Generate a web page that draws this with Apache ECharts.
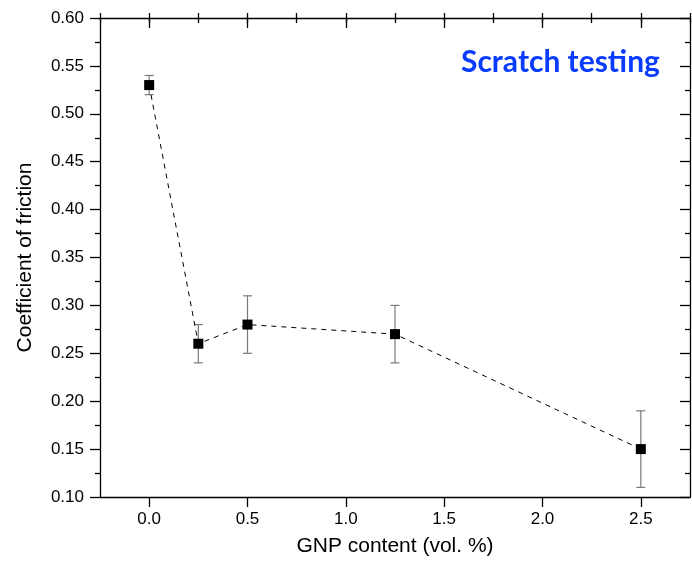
<!DOCTYPE html>
<html>
<head>
<meta charset="utf-8">
<script src="https://cdn.jsdelivr.net/npm/echarts@6/dist/echarts.min.js"></script>
<style>
  html, body { margin: 0; padding: 0; background: #fff; }
  #chart { width: 692px; height: 571px; }
</style>
</head>
<body>
<div id="chart"></div>
<script>
// GNP content (vol. %) and coefficient of friction
const gnpContent = [0, 0.25, 0.5, 1.25, 2.5]
const friction = [0.53, 0.26, 0.28, 0.27, 0.15]
const errLow = [0.52, 0.24, 0.25, 0.24, 0.11]
const errHigh = [0.54, 0.28, 0.31, 0.30, 0.19]
const xMajorTicks = [0, 0.5, 1.0, 1.5, 2.0, 2.5]

const chart = echarts.init(document.getElementById('chart'))

const font = 'Liberation Sans, Arial, sans-serif'
const tickLine = { color: '#000', width: 1.3 }

const xBase = {
  type: 'value',
  min: -0.25,
  max: 2.75,
  interval: 0.25,
  axisLine: { show: true, onZero: false, lineStyle: { color: '#000', width: 1.3 } },
  splitLine: { show: false }
}

const yBase = {
  type: 'value',
  min: 0.10,
  max: 0.60,
  interval: 0.05,
  axisLine: { show: true, onZero: false, lineStyle: { color: '#000', width: 1.3 } },
  splitLine: { show: false },
  minorTick: { show: true, splitNumber: 2, length: 5, lineStyle: tickLine }
}

const option = {
  animation: false,
  title: {
    text: 'Scratch testing',
    left: 456,
    top: 42,
    textStyle: { color: '#0a3cff', fontSize: 30, fontWeight: 'bold', fontFamily: 'Lato, Open Sans, sans-serif' }
  },
  grid: { left: 100, right: 2, top: 18, bottom: 74 },
  xAxis: [
    {
      ...xBase,
      name: 'GNP content (vol. %)',
      nameLocation: 'middle',
      nameGap: 39,
      nameTextStyle: { fontSize: 21, color: '#000', fontFamily: font },
      axisTick: { show: true, length: 10, lineStyle: tickLine, customValues: xMajorTicks },
      axisLabel: {
        fontSize: 17, color: '#000', fontFamily: font, margin: 14,
        customValues: xMajorTicks,
        formatter: v => v.toFixed(1)
      }
    },
    {
      ...xBase,
      axisLine: { show: false, onZero: false },
      axisTick: { show: true, length: 5, lineStyle: tickLine },
      axisLabel: { show: false }
    },
    {
      ...xBase,
      position: 'top',
      axisTick: { show: true, inside: true, length: 10, lineStyle: tickLine, customValues: xMajorTicks },
      axisLabel: { show: false }
    },
    {
      ...xBase,
      position: 'top',
      axisLine: { show: false, onZero: false },
      axisTick: { show: true, inside: true, length: 5, lineStyle: tickLine },
      axisLabel: { show: false }
    }
  ],
  yAxis: [
    {
      ...yBase,
      name: 'Coefficient of friction',
      nameLocation: 'middle',
      nameGap: 64,
      nameTextStyle: { fontSize: 21, color: '#000', fontFamily: font },
      axisTick: { show: true, length: 10, lineStyle: tickLine },
      axisLabel: { fontSize: 17, color: '#000', fontFamily: font, margin: 16, formatter: v => v.toFixed(2) }
    },
    {
      ...yBase,
      position: 'right',
      axisTick: { show: true, inside: true, length: 10, lineStyle: tickLine },
      minorTick: { show: true, splitNumber: 2, length: 5, lineStyle: tickLine },
      axisLabel: { show: false }
    }
  ],
  series: [
    {
      type: 'custom',
      xAxisIndex: 0,
      yAxisIndex: 0,
      data: gnpContent.map((x, i) => [x, errLow[i], errHigh[i]]),
      renderItem: (params, api) => {
        const lo = api.coord([api.value(0), api.value(1)])
        const hi = api.coord([api.value(0), api.value(2)])
        const half = 4.5
        const style = { stroke: '#7a7a7a', lineWidth: 1.2 }
        return {
          type: 'group',
          children: [
            { type: 'line', shape: { x1: lo[0], y1: lo[1], x2: hi[0], y2: hi[1] }, style },
            { type: 'line', shape: { x1: lo[0] - half, y1: lo[1], x2: lo[0] + half, y2: lo[1] }, style },
            { type: 'line', shape: { x1: hi[0] - half, y1: hi[1], x2: hi[0] + half, y2: hi[1] }, style }
          ]
        }
      },
      z: 1
    },
    {
      type: 'line',
      xAxisIndex: 0,
      yAxisIndex: 0,
      data: gnpContent.map((x, i) => [x, friction[i]]),
      symbol: 'rect',
      symbolSize: 10,
      itemStyle: { color: '#000' },
      lineStyle: { color: '#000', width: 1, type: [5, 5] },
      z: 2
    }
  ]
}

chart.setOption(option)
</script>
</body>
</html>
